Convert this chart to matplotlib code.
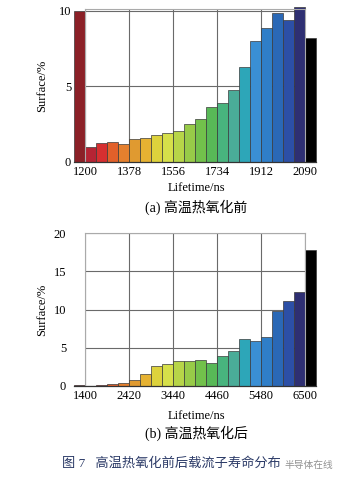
import numpy as np
import matplotlib
matplotlib.use("Agg")
import matplotlib.pyplot as plt

plt.rcParams['font.family'] = ['Liberation Serif', 'Noto Sans CJK SC']
plt.rcParams['font.size'] = 9

# (a) before high-temperature thermal oxidation
ticks_a = [1200, 1378, 1556, 1734, 1912, 2090]
surface_a = [10.0, 1.02, 1.24, 1.31, 1.18, 1.51, 1.58, 1.80, 1.91, 2.02, 2.53,
             2.85, 3.64, 3.92, 4.72, 6.30, 7.96, 8.85, 9.83, 9.40, 10.2, 8.16]

# (b) after high-temperature thermal oxidation
ticks_b = [1400, 2420, 3440, 4460, 5480, 6500]
surface_b = [0.08, 0.04, 0.1, 0.25, 0.39, 0.79, 1.53, 2.62, 2.88, 3.23, 3.28,
             3.36, 3.01, 3.93, 4.54, 6.16, 5.94, 6.42, 9.74, 11.1, 12.28, 17.82]

palette = ["#8B2027", "#B52434", "#D62F30", "#E2602A", "#E5802E", "#E09A30",
           "#E6B232", "#DDD23C", "#D6E04A", "#B7D548", "#98CB48", "#72C14B",
           "#58B957", "#48B47E", "#4AAC98", "#2DA6B8", "#3A8FD4", "#2F7EC8",
           "#2A68B6", "#2C4FA6", "#2E2F72", "#000000"]


def draw(ax, ticks, values, ymax, yticks, ypad):
    n = len(values)
    width = (ticks[-1] - ticks[0]) / (4 * (len(ticks) - 1))
    left = ticks[0] - width + np.arange(n) * width
    ax.bar(left, values, width=width, align='edge', color=palette,
           edgecolor='#3a3a3a', linewidth=0.5, clip_on=False, zorder=2)
    ax.set_xlim(ticks[0], ticks[-1])
    ax.set_ylim(0, ymax)
    ax.set_xticks(ticks)
    ax.set_yticks(yticks)
    ax.set_axisbelow(True)
    ax.grid(True, color='#6a6a6a', linewidth=0.8)
    ax.tick_params(length=0, labelsize=9)
    ax.tick_params(axis='x', pad=3)
    ax.tick_params(axis='y', pad=ypad)
    for s in ['top', 'right', 'left']:
        ax.spines[s].set_color('#aaaaaa')
        ax.spines[s].set_linewidth(0.8)
    ax.spines['bottom'].set_color('#333333')
    ax.spines['bottom'].set_linewidth(0.9)
    ax.spines['bottom'].set_bounds(left[0], left[-1] + width)
    ax.spines['bottom'].set_zorder(3)


fig = plt.figure(figsize=(3.44, 4.80), dpi=100)
W, H = 344, 480

ax1 = fig.add_axes([85 / W, 1 - 162 / H, 220 / W, 153 / H])
draw(ax1, ticks_a, surface_a, 10.1, [0, 5, 10], 10)

ax2 = fig.add_axes([85 / W, 1 - 386 / H, 220 / W, 153 / H])
draw(ax2, ticks_b, surface_b, 20, [0, 5, 10, 15, 20], 13.5)

fig.text(42 / W, 1 - 86 / H, "Surface/%", rotation=90, ha='center', va='center', fontsize=9)
fig.text(42 / W, 1 - 310 / H, "Surface/%", rotation=90, ha='center', va='center', fontsize=9)

fig.text(196 / W, 1 - 188 / H, "Lifetime/ns", ha='center', va='center', fontsize=9)
fig.text(196 / W, 1 - 207 / H, "(a) 高温热氧化前", ha='center', va='center', fontsize=10)
fig.text(196 / W, 1 - 416 / H, "Lifetime/ns", ha='center', va='center', fontsize=9)
fig.text(196 / W, 1 - 433 / H, "(b) 高温热氧化后", ha='center', va='center', fontsize=10)

fig.text(62 / W, 1 - 463 / H, "图 7   高温热氧化前后载流子寿命分布", ha='left', va='center',
         fontsize=9.5, color='#2B3A67')
fig.text(333 / W, 1 - 465 / H, "半导体在线", ha='right', va='center',
         fontsize=7, color='#777777', alpha=0.8)

fig.savefig("out.png", dpi=100)
